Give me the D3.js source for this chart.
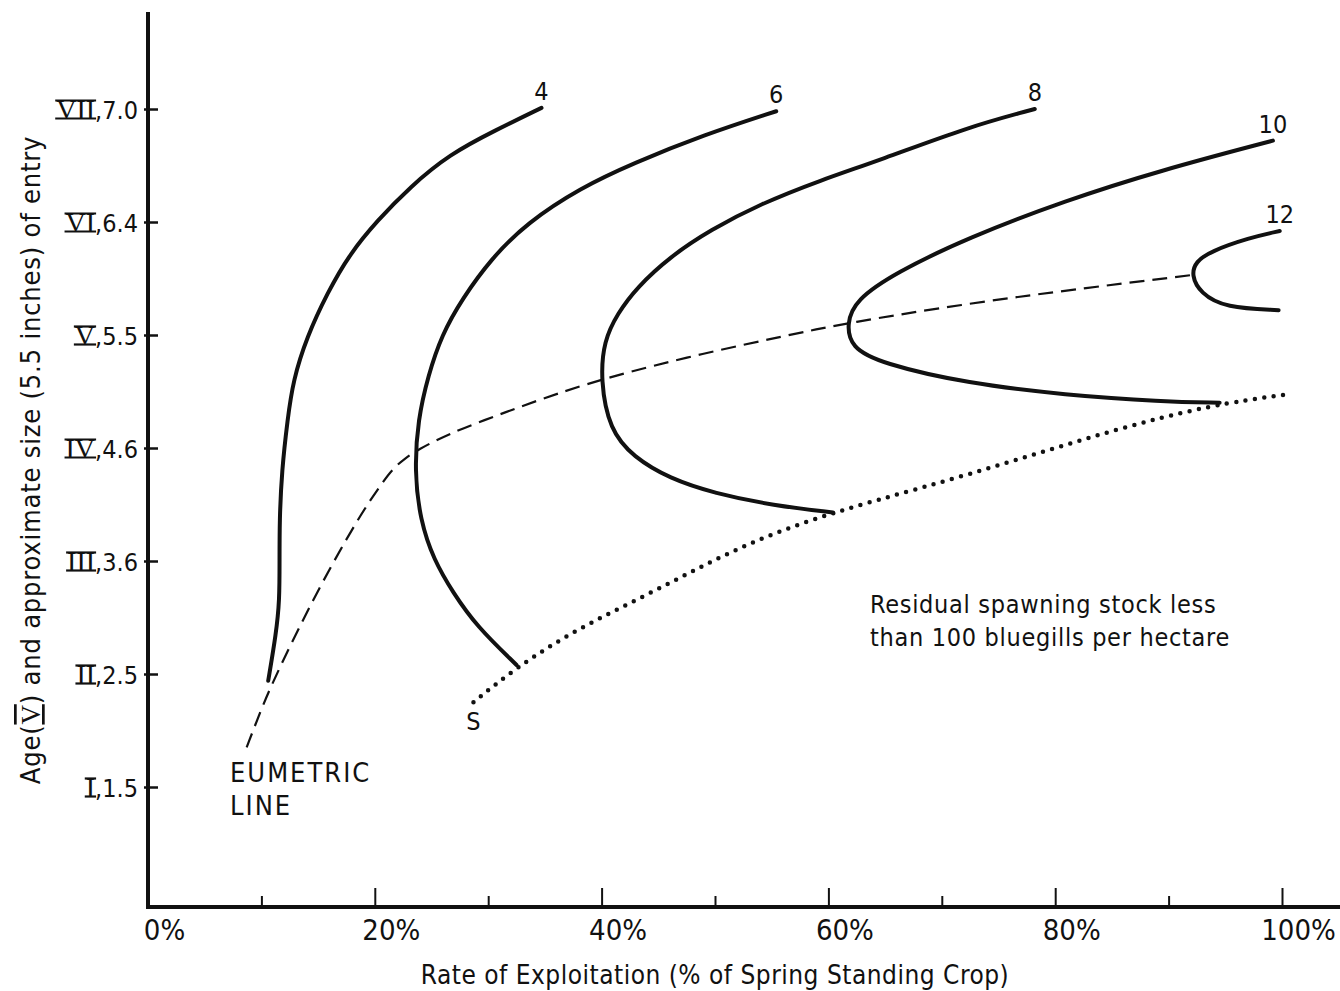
<!DOCTYPE html>
<html>
<head>
<meta charset="utf-8">
<script src="https://cdn.jsdelivr.net/npm/d3@7"></script>
<style>
  body { margin: 0; background: #fff; }
  svg { display: block; }
  text { font-family: "DejaVu Sans Condensed", "Liberation Sans Narrow", "DejaVu Sans", sans-serif; font-stretch: condensed; fill: #111; }
  .roman { font-family: "Liberation Serif", "DejaVu Serif", serif; font-stretch: normal; }
</style>
</head>
<body>
<svg id="chart" width="1340" height="991"></svg>
<script>
// rate of exploitation (%) vs age of entry (I..VII)
var xTicks = [0, 20, 40, 60, 80, 100];
var xMinor = [10, 30, 50, 70, 90];
var xTickLabels = ["0%", "20%", "40%", "60%", "80%", "100%"];
var yTicks = [1, 2, 3, 4, 5, 6, 7];
var yRoman = ["I", "II", "III", "IV", "V", "VI", "VII"];
var ySize = ["1.5", "2.5", "3.6", "4.6", "5.5", "6.4", "7.0"];

// yield isopleths, [rate %, age]
var curve4 = [[10.6,1.94],[11.3,2.36],[11.6,2.65],[11.6,3.01],[11.6,3.36],[11.8,3.80],[12.3,4.25],[12.8,4.60],[14.0,4.98],[15.8,5.37],[17.8,5.72],[20.2,6.01],[23.1,6.31],[26.6,6.60],[30.6,6.81],[34.7,7.01]];
var curve6 = [[32.5,2.08],[29.0,2.42],[26.9,2.72],[25.2,3.01],[24.0,3.36],[23.5,3.80],[23.8,4.25],[24.7,4.64],[25.9,5.00],[27.7,5.32],[30.3,5.68],[33.4,5.99],[38.1,6.30],[42.8,6.52],[49.0,6.77],[55.4,6.98]];
var curve8 = [[60.4,3.43],[55.2,3.49],[49.9,3.60],[46.0,3.73],[42.8,3.92],[40.7,4.16],[39.9,4.60],[40.2,4.95],[41.4,5.19],[43.1,5.42],[46.0,5.69],[49.6,5.93],[54.0,6.16],[59.3,6.37],[64.6,6.55],[72.3,6.84],[78.2,7.00]];
var curve10 = [[94.5,4.40],[89.4,4.41],[80.9,4.47],[72.3,4.57],[64.6,4.75],[62.0,4.89],[61.6,5.10],[62.4,5.31],[65.9,5.55],[72.3,5.86],[80.9,6.19],[89.4,6.46],[99.2,6.72]];
var curve12 = [[99.7,5.22],[95.0,5.24],[92.8,5.37],[92.0,5.53],[92.4,5.65],[93.7,5.74],[97.1,5.86],[99.8,5.92]];
var curves = [curve4, curve6, curve8, curve10, curve12];
var curveLabels = ["4", "6", "8", "10", "12"];

var eumetric = [[8.7,1.35],[10.1,1.72],[11.6,2.06],[15.1,2.77],[18.6,3.39],[20.5,3.67],[21.6,3.82],[22.7,3.91],[23.7,3.98],[26.6,4.13],[30.8,4.29],[34.6,4.43],[39.9,4.61],[49.0,4.84],[57.5,5.02],[61.3,5.10],[72.3,5.28],[83.0,5.42],[92.0,5.53]];
var spawning = [[28.7,1.75],[32.5,2.06],[37.7,2.39],[43.0,2.65],[48.2,2.92],[53.4,3.18],[60.3,3.43],[68.0,3.64],[76.5,3.89],[85.1,4.16],[93.7,4.38],[100.1,4.47]];

var svg = d3.select("#chart");

var x = d3.scaleLinear().domain([0, 100]).range([148, 1282]);
var y = d3.scaleLinear().domain([1, 7]).range([787, 109]);
var axisY = 907;

var line = d3.line()
    .x(function(d){ return x(d[0]); })
    .y(function(d){ return y(d[1]); })
    .curve(d3.curveBasis);

// axes
var xAxis = d3.axisBottom(x).tickValues(xTicks)
    .tickFormat(function(d, i){ return xTickLabels[i]; })
    .tickSizeInner(-19).tickSizeOuter(0).tickPadding(30);
var gx = svg.append("g").attr("transform", "translate(0," + axisY + ")").call(xAxis);
gx.select(".domain").remove();
gx.selectAll(".tick line").attr("stroke", "#111").attr("stroke-width", 2);
gx.selectAll(".tick text").attr("font-size", 29).attr("dx", 16).attr("dy", 0).attr("y", 33);

var xAxisMinor = d3.axisBottom(x).tickValues(xMinor).tickFormat("").tickSizeInner(-11).tickSizeOuter(0);
var gxm = svg.append("g").attr("transform", "translate(0," + axisY + ")").call(xAxisMinor);
gxm.select(".domain").remove();
gxm.selectAll(".tick line").attr("stroke", "#111").attr("stroke-width", 2);

var yAxis = d3.axisLeft(y).tickValues(yTicks).tickFormat("")
    .tickSizeInner(-10).tickSizeOuter(0);
var gy = svg.append("g").attr("transform", "translate(" + x(0) + ",0)").call(yAxis);
gy.select(".domain").remove();
gy.selectAll(".tick line").attr("stroke", "#111").attr("stroke-width", 2.5).attr("x1", -4);

// y tick labels: roman numeral with bars, then size
gy.selectAll(".tick").each(function(d, i){
  var g = d3.select(this);
  var num = g.append("text")
      .attr("x", -10).attr("y", 9)
      .attr("text-anchor", "end")
      .attr("font-size", 25)
      .text("," + ySize[i]);
  var numLen = num.node().getComputedTextLength();
  var rx = -10 - numLen;
  var rom = g.append("text").attr("class", "roman")
      .attr("x", rx).attr("y", 9)
      .attr("text-anchor", "end")
      .attr("font-size", 28)
      .text(yRoman[i]);
  var romLen = rom.node().getComputedTextLength();
  [9, -9].forEach(function(by){
    g.append("line").attr("x1", rx - romLen - 1).attr("x2", rx + 1)
        .attr("y1", by).attr("y2", by)
        .attr("stroke", "#111").attr("stroke-width", 2.2);
  });
});

svg.append("line").attr("x1", x(0)).attr("x2", 1340).attr("y1", axisY).attr("y2", axisY)
    .attr("stroke", "#111").attr("stroke-width", 4);
svg.append("line").attr("x1", x(0)).attr("x2", x(0)).attr("y1", 12).attr("y2", axisY + 2)
    .attr("stroke", "#111").attr("stroke-width", 4);

// curves
svg.append("path").datum(eumetric).attr("d", line)
    .attr("fill", "none").attr("stroke", "#111").attr("stroke-width", 2.2)
    .attr("stroke-dasharray", "15,8");

svg.append("path").datum(spawning).attr("d", line)
    .attr("fill", "none").attr("stroke", "#111").attr("stroke-width", 4.5)
    .attr("stroke-linecap", "round").attr("stroke-dasharray", "0,9.5");

svg.selectAll(".iso").data(curves).enter().append("path")
    .attr("class", "iso")
    .attr("d", line)
    .attr("fill", "none").attr("stroke", "#111").attr("stroke-width", 4)
    .attr("stroke-linecap", "round");

svg.selectAll(".isoLabel").data(curves).enter().append("text")
    .attr("class", "isoLabel")
    .attr("x", function(d){ return x(d[d.length - 1][0]); })
    .attr("y", function(d){ return y(d[d.length - 1][1]) - 8; })
    .attr("text-anchor", "middle")
    .attr("font-size", 25)
    .text(function(d, i){ return curveLabels[i]; });

svg.append("text").attr("x", x(spawning[0][0])).attr("y", y(spawning[0][1]) + 28)
    .attr("text-anchor", "middle").attr("font-size", 25).text("S");

// annotations
var eum = svg.append("text").attr("x", 230).attr("y", 782).attr("font-size", 27)
    .attr("letter-spacing", 2);
eum.append("tspan").attr("x", 230).text("EUMETRIC");
eum.append("tspan").attr("x", 230).attr("dy", 33).text("LINE");

var res = svg.append("text").attr("x", 870).attr("y", 613).attr("font-size", 25)
    .attr("letter-spacing", 0.7);
res.append("tspan").attr("x", 870).text("Residual spawning stock less");
res.append("tspan").attr("x", 870).attr("dy", 33).text("than 100 bluegills per hectare");

// axis titles
svg.append("text").attr("x", 715).attr("y", 984).attr("text-anchor", "middle")
    .attr("font-size", 26).attr("letter-spacing", 0.5)
    .text("Rate of Exploitation (% of Spring Standing Crop)");

var yt = svg.append("text").attr("transform", "translate(40,460) rotate(-90)")
    .attr("text-anchor", "middle").attr("font-size", 27).attr("letter-spacing", 0.8);
yt.append("tspan").text("Age(");
yt.append("tspan").attr("class", "roman").style("text-decoration", "overline underline").text("V");
yt.append("tspan").text(") and approximate size (5.5 inches) of entry");
</script>
</body>
</html>
